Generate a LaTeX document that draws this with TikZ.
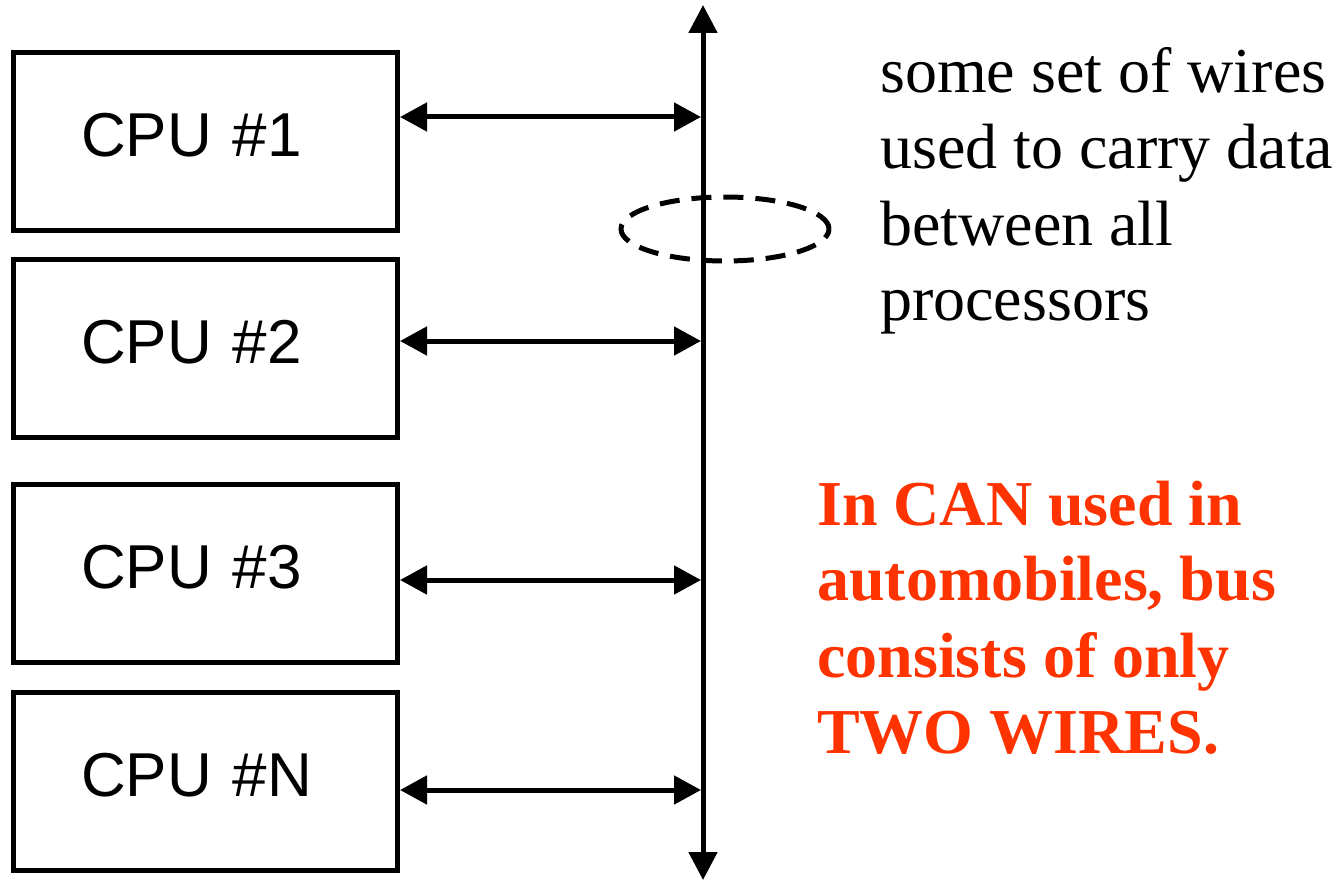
\documentclass[tikz,border=0pt]{standalone}
\usepackage{fontspec}
\setmainfont{Liberation Serif}
\newfontfamily\arialfont{Liberation Sans}
\usetikzlibrary{arrows.meta,shapes.geometric}
\definecolor{canred}{RGB}{255,51,0}
\tikzset{
  cpubox/.style={draw, line width=5pt, minimum width=384pt, minimum height=178pt,
    text width=249pt, inner xsep=67pt, inner ysep=0pt, align=left, text depth=13pt,
    font=\arialfont\fontsize{62pt}{70pt}\selectfont},
  link/.style={line width=5pt, {Triangle[length=27pt,width=28pt]}-{Triangle[length=27pt,width=28pt]}},
  busline/.style={line width=5pt, {Triangle[length=28pt,width=28pt]}-{Triangle[length=28pt,width=28pt]}},
  note/.style={anchor=base west, inner sep=0pt, font=\fontsize{64pt}{76pt}\selectfont},
  rednote/.style={note, text=canred, font=\bfseries\fontsize{64pt}{76pt}\selectfont},
  wirering/.style={draw, line width=5pt, dash pattern=on 20pt off 12pt}
}
\begin{document}
\begin{tikzpicture}[x=1pt,y=-1pt]
\useasboundingbox (0,0) rectangle (1344,880);
% bus
\coordinate (bustop) at (703,5);
\coordinate (busbot) at (703,880);
\draw[busline] (bustop) -- (busbot);
% CPU boxes
\node[cpubox] (b1) at (205.5,141.5) {CPU \#1};
\node[cpubox] (b2) at (205.5,348.5) {CPU \#2};
\node[cpubox] (b3) at (205.5,573.5) {CPU \#3};
\node[cpubox] (b4) at (205.5,781.5) {CPU \#N};
% bus taps
\coordinate (a1) at (701,117);
\coordinate (a2) at (701,341);
\coordinate (a3) at (701,580);
\coordinate (a4) at (701,790);
\draw[link] (b1.east |- a1) -- (a1);
\draw[link] (b2.east |- a2) -- (a2);
\draw[link] (b3.east |- a3) -- (a3);
\draw[link] (b4.east |- a4) -- (a4);
% dashed ellipse around the bus
\node[wirering, ellipse, minimum width=208pt, minimum height=64pt, inner sep=0pt] (ring) at (725,229) {};
% description
\node[note] (t1) at (880,93) {some set of wires};
\node[note] (t2) at (880,168) {used to carry data};
\node[note] (t3) at (880,245) {between all};
\node[note] (t4) at (880,320) {processors};
% red note
\node[rednote] (r1) at (817,525) {In CAN used in};
\node[rednote] (r2) at (817,600) {automobiles, bus};
\node[rednote] (r3) at (817,677) {consists of only};
\node[rednote] (r4) at (817,753) {TWO WIRES.};
\end{tikzpicture}
\end{document}
